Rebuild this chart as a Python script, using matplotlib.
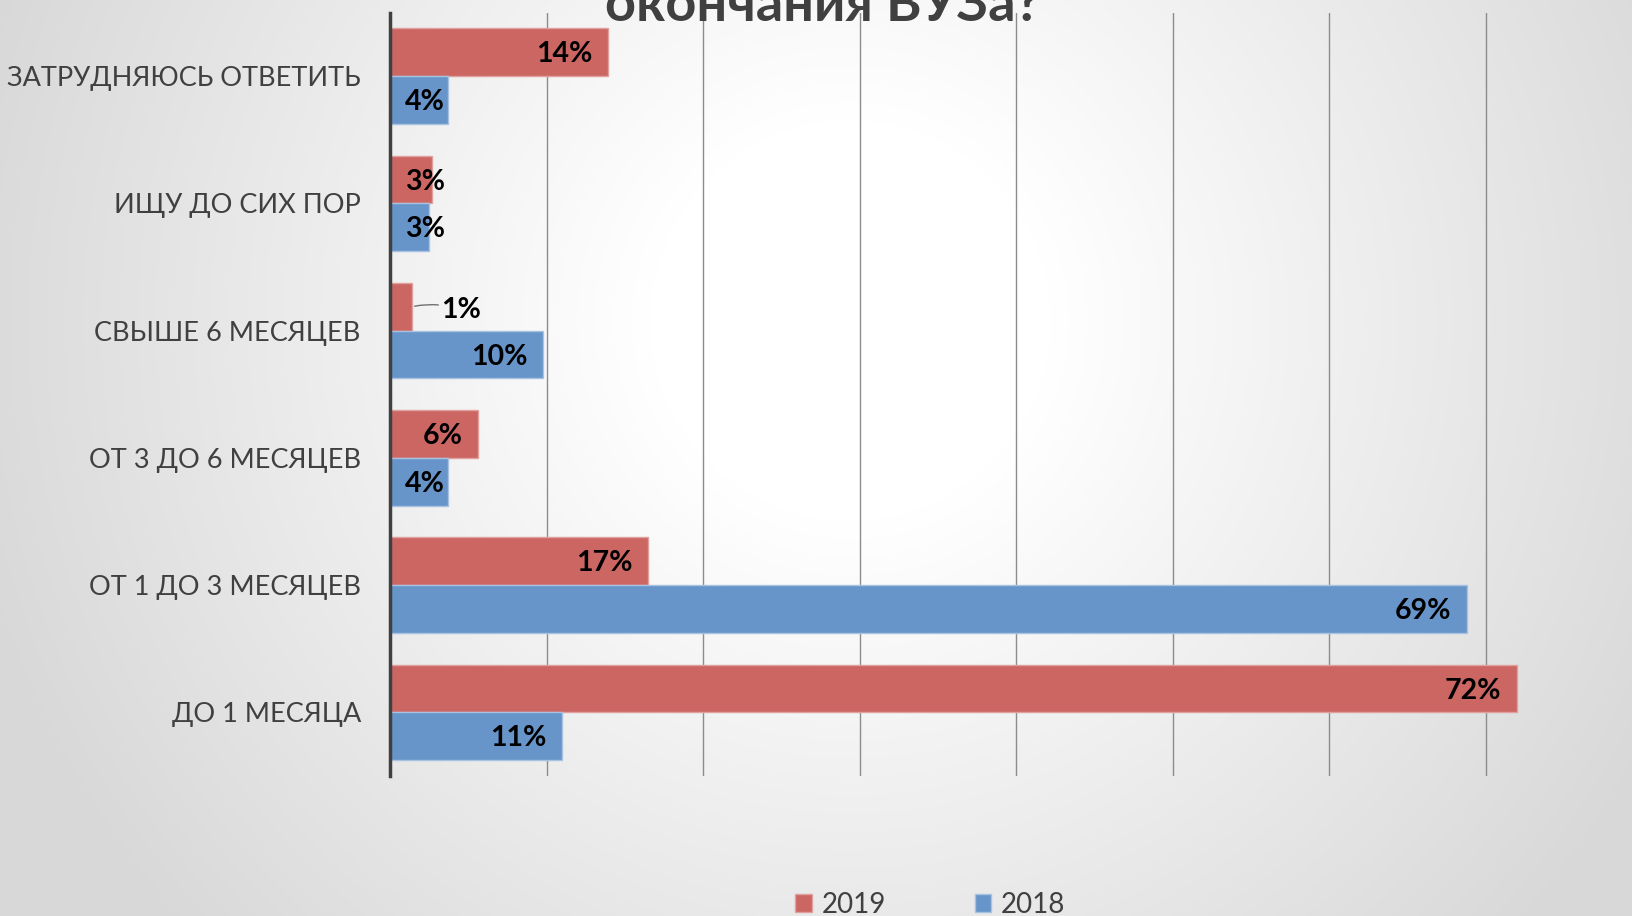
import numpy as np
import matplotlib.pyplot as plt
from matplotlib.patches import Patch

plt.rcParams['font.family'] = ['Lato', 'DejaVu Sans']

# Data (bottom to top, as drawn)
categories = ["ДО 1 МЕСЯЦА", "ОТ 1 ДО 3 МЕСЯЦЕВ", "ОТ 3 ДО 6 МЕСЯЦЕВ",
              "СВЫШЕ 6 МЕСЯЦЕВ", "ИЩУ ДО СИХ ПОР", "ЗАТРУДНЯЮСЬ ОТВЕТИТЬ"]
vals_2019 = [72.0, 16.5, 5.6, 1.4, 2.7, 13.9]
vals_2018 = [11.0, 68.8, 3.7, 9.8, 2.5, 3.7]
series_names = ["2019", "2018"]

red = "#CB6663"
blue = "#6794C9"
text_col = "#404040"

W, H = 1632, 916
fig = plt.figure(figsize=(W / 100, H / 100), dpi=100)

# Radial gradient background
bg = fig.add_axes([0, 0, 1, 1], zorder=-10)
yy, xx = np.mgrid[0:H, 0:W]
r = np.hypot(xx - 850, yy - 320)
shade = 1 - 0.15 * np.clip((r - 200) / 700, 0, 1)
bg.imshow(np.dstack([shade] * 3), aspect='auto', extent=[0, 1, 0, 1])
bg.axis('off')

# Main axes
left_px, top_px, bottom_px = 390, 12.5, 776
ax = fig.add_axes([left_px / W, 1 - bottom_px / H, 1 - left_px / W, (bottom_px - top_px) / H])
ax.patch.set_alpha(0)

px_per_pct = 15.65
ax.set_xlim(0, (W - left_px) / px_per_pct)
ax.set_ylim(-0.5, len(categories) - 0.5)

y = np.arange(len(categories))
h = 0.375
ax.barh(y + h / 2, vals_2019, height=h, color=red, edgecolor="#E0A09E", linewidth=1, zorder=3)
ax.barh(y - h / 2, vals_2018, height=h, color=blue, edgecolor="#A8C2E2", linewidth=1, zorder=3)

# Grid
ax.set_xticks(np.arange(10, 80, 10))
ax.xaxis.grid(True, color="#8c8c8c", linewidth=1, zorder=0)
ax.tick_params(axis='x', length=0, labelbottom=False)
ax.tick_params(axis='y', length=0, pad=21, labelsize=19.5, labelcolor=text_col)
ax.set_yticks(y)
ax.set_yticklabels(categories)
for s in ['top', 'right', 'bottom']:
    ax.spines[s].set_visible(False)
ax.spines['left'].set_color(text_col)
ax.spines['left'].set_linewidth(2.5)
ax.spines['left'].set_zorder(5)

# Data labels
def label(v, yc):
    txt = f"{int(v + 0.5)}%"
    kw = dict(fontsize=20.5, fontweight='bold', color='black', va='center', zorder=6)
    if v < 2:
        ax.annotate(txt, xy=(v, yc), xytext=(21, -2.5), textcoords='offset points',
                    ha='left', arrowprops=dict(arrowstyle='-', color='#707070', lw=1,
                                               shrinkA=0, shrinkB=2,
                                               connectionstyle='arc3,rad=0.15'), **kw)
    elif v < 5:
        ax.annotate(txt, xy=(0, yc), xytext=(11, -1.5), textcoords='offset points', ha='left', **kw)
    else:
        ax.annotate(txt, xy=(v, yc), xytext=(-11, -1.5), textcoords='offset points', ha='right', **kw)

for i in range(len(categories)):
    label(vals_2019[i], y[i] + h / 2)
    label(vals_2018[i], y[i] - h / 2)

# Title (cut off at top, as in the source slide)
fig.text(823 / W, 1 - 21 / H, "окончания ВУЗа?", ha='center', va='baseline',
         fontsize=39, fontweight='bold', color=text_col)

# Legend
handles = [Patch(facecolor=red, edgecolor="#E0A09E"), Patch(facecolor=blue, edgecolor="#A8C2E2")]
fig.legend(handles, series_names, loc='center', bbox_to_anchor=(0.570, 1 - 905 / H),
           ncol=2, frameon=False, fontsize=20, labelcolor=text_col,
           handlelength=0.6, handleheight=0.6, handletextpad=0.35, columnspacing=3.2)

fig.savefig("out.png", dpi=100)
